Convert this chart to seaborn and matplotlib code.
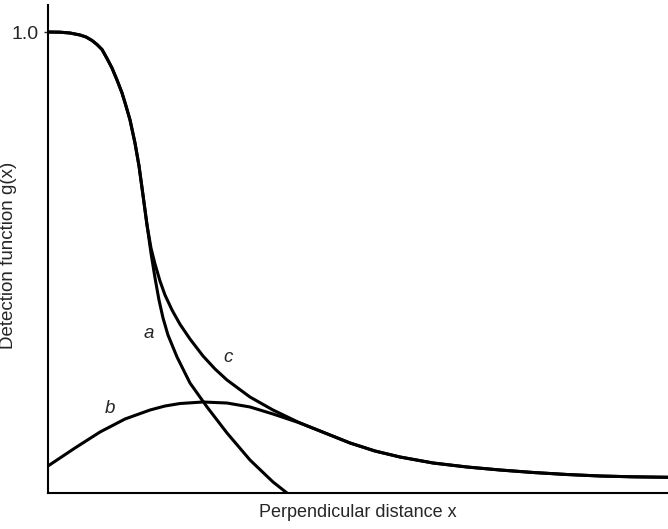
import matplotlib
matplotlib.use("Agg")
import matplotlib.pyplot as plt
import seaborn as sns
import pandas as pd

sns.set_theme(style="white")
plt.rcParams['font.family'] = ['Liberation Sans', 'DejaVu Sans']

# shared upper part of curves a and c
top_x = [0.0, 0.0194, 0.0355, 0.0516, 0.0613, 0.0710, 0.0790, 0.0871, 0.0952,
         0.1032, 0.1113, 0.1194, 0.1258, 0.1323, 0.1403, 0.1468, 0.1532, 0.1597]
top_y = [1.0, 0.9996, 0.9978, 0.9935, 0.9892, 0.9816, 0.9729, 0.9620, 0.9425,
         0.9219, 0.8959, 0.8677, 0.8395, 0.8091, 0.7592, 0.7093, 0.6464, 0.5813]

# lower branch of curve a
a_low_x = [0.1661, 0.1726, 0.1790, 0.1855, 0.1935, 0.2081, 0.2290, 0.2565,
           0.2887, 0.3258, 0.3629, 0.3855]
a_low_y = [0.5206, 0.4664, 0.4187, 0.3796, 0.3427, 0.2950, 0.2386, 0.1866,
           0.1302, 0.0716, 0.0239, 0.0]

# lower branch of curve c
c_low_x = [0.1661, 0.1726, 0.1806, 0.1887, 0.2000, 0.2129, 0.2290, 0.2500,
           0.2694, 0.2887, 0.3258, 0.3629]
c_low_y = [0.5315, 0.4967, 0.4599, 0.4295, 0.3970, 0.3660, 0.3341, 0.2972,
           0.2690, 0.2451, 0.2082, 0.1800]

# common tail of curves b and c
tail_x = [0.4065, 0.4468, 0.4871, 0.5274, 0.5677, 0.6210, 0.6758, 0.7290,
          0.7823, 0.8371, 0.8903, 0.9435, 1.0]
tail_y = [0.1518, 0.1302, 0.1085, 0.0911, 0.0781, 0.0651, 0.0564, 0.0499,
          0.0445, 0.0401, 0.0369, 0.0351, 0.0341]

# rising part of curve b
b_head_x = [0.0, 0.0435, 0.0839, 0.1242, 0.1645, 0.1887, 0.2129, 0.2500,
            0.2887, 0.3258, 0.3629]
b_head_y = [0.0586, 0.0976, 0.1323, 0.1605, 0.1800, 0.1887, 0.1941, 0.1974,
            0.1952, 0.1866, 0.1714]

labels = ["a", "b", "c"]
label_x = [0.163, 0.100, 0.291]
label_y = [0.345, 0.183, 0.295]

a_x = top_x + a_low_x
a_y = top_y + a_low_y
c_x = top_x + c_low_x + tail_x
c_y = top_y + c_low_y + tail_y
b_x = b_head_x + tail_x
b_y = b_head_y + tail_y

df = pd.concat([
    pd.DataFrame({"x": a_x, "y": a_y, "curve": "a"}),
    pd.DataFrame({"x": b_x, "y": b_y, "curve": "b"}),
    pd.DataFrame({"x": c_x, "y": c_y, "curve": "c"}),
])

fig = plt.figure(figsize=(6.68, 5.29), dpi=100)
ax = fig.add_axes([48/668, 36/529, 620/668, 488/529])
sns.lineplot(data=df, x="x", y="y", units="curve", estimator=None, sort=False,
             color="black", linewidth=2.2, ax=ax, legend=False)
for line in ax.get_lines():
    line.set_solid_joinstyle("round")
    line.set_solid_capstyle("round")

for t, lx, ly in zip(labels, label_x, label_y):
    ax.text(lx, ly, t, fontsize=13.5, fontstyle="italic", ha="center", va="center")

ax.set_xlim(0, 1)
ax.set_ylim(0, 488/461)
ax.set_xticks([])
ax.set_yticks([1.0])
ax.set_yticklabels(["1.0"], fontsize=14)
ax.tick_params(axis="y", length=3, width=1, pad=4, left=True)
ax.set_xlabel("Perpendicular distance x", fontsize=13, labelpad=8)
ax.set_ylabel("Detection function g(x)", fontsize=13.5)
ax.yaxis.set_label_coords(-0.05, 0.486)
for s in ["top", "right"]:
    ax.spines[s].set_visible(False)
for s in ["left", "bottom"]:
    ax.spines[s].set_color("black")
    ax.spines[s].set_linewidth(1.5)

fig.savefig("out.png", dpi=100)
